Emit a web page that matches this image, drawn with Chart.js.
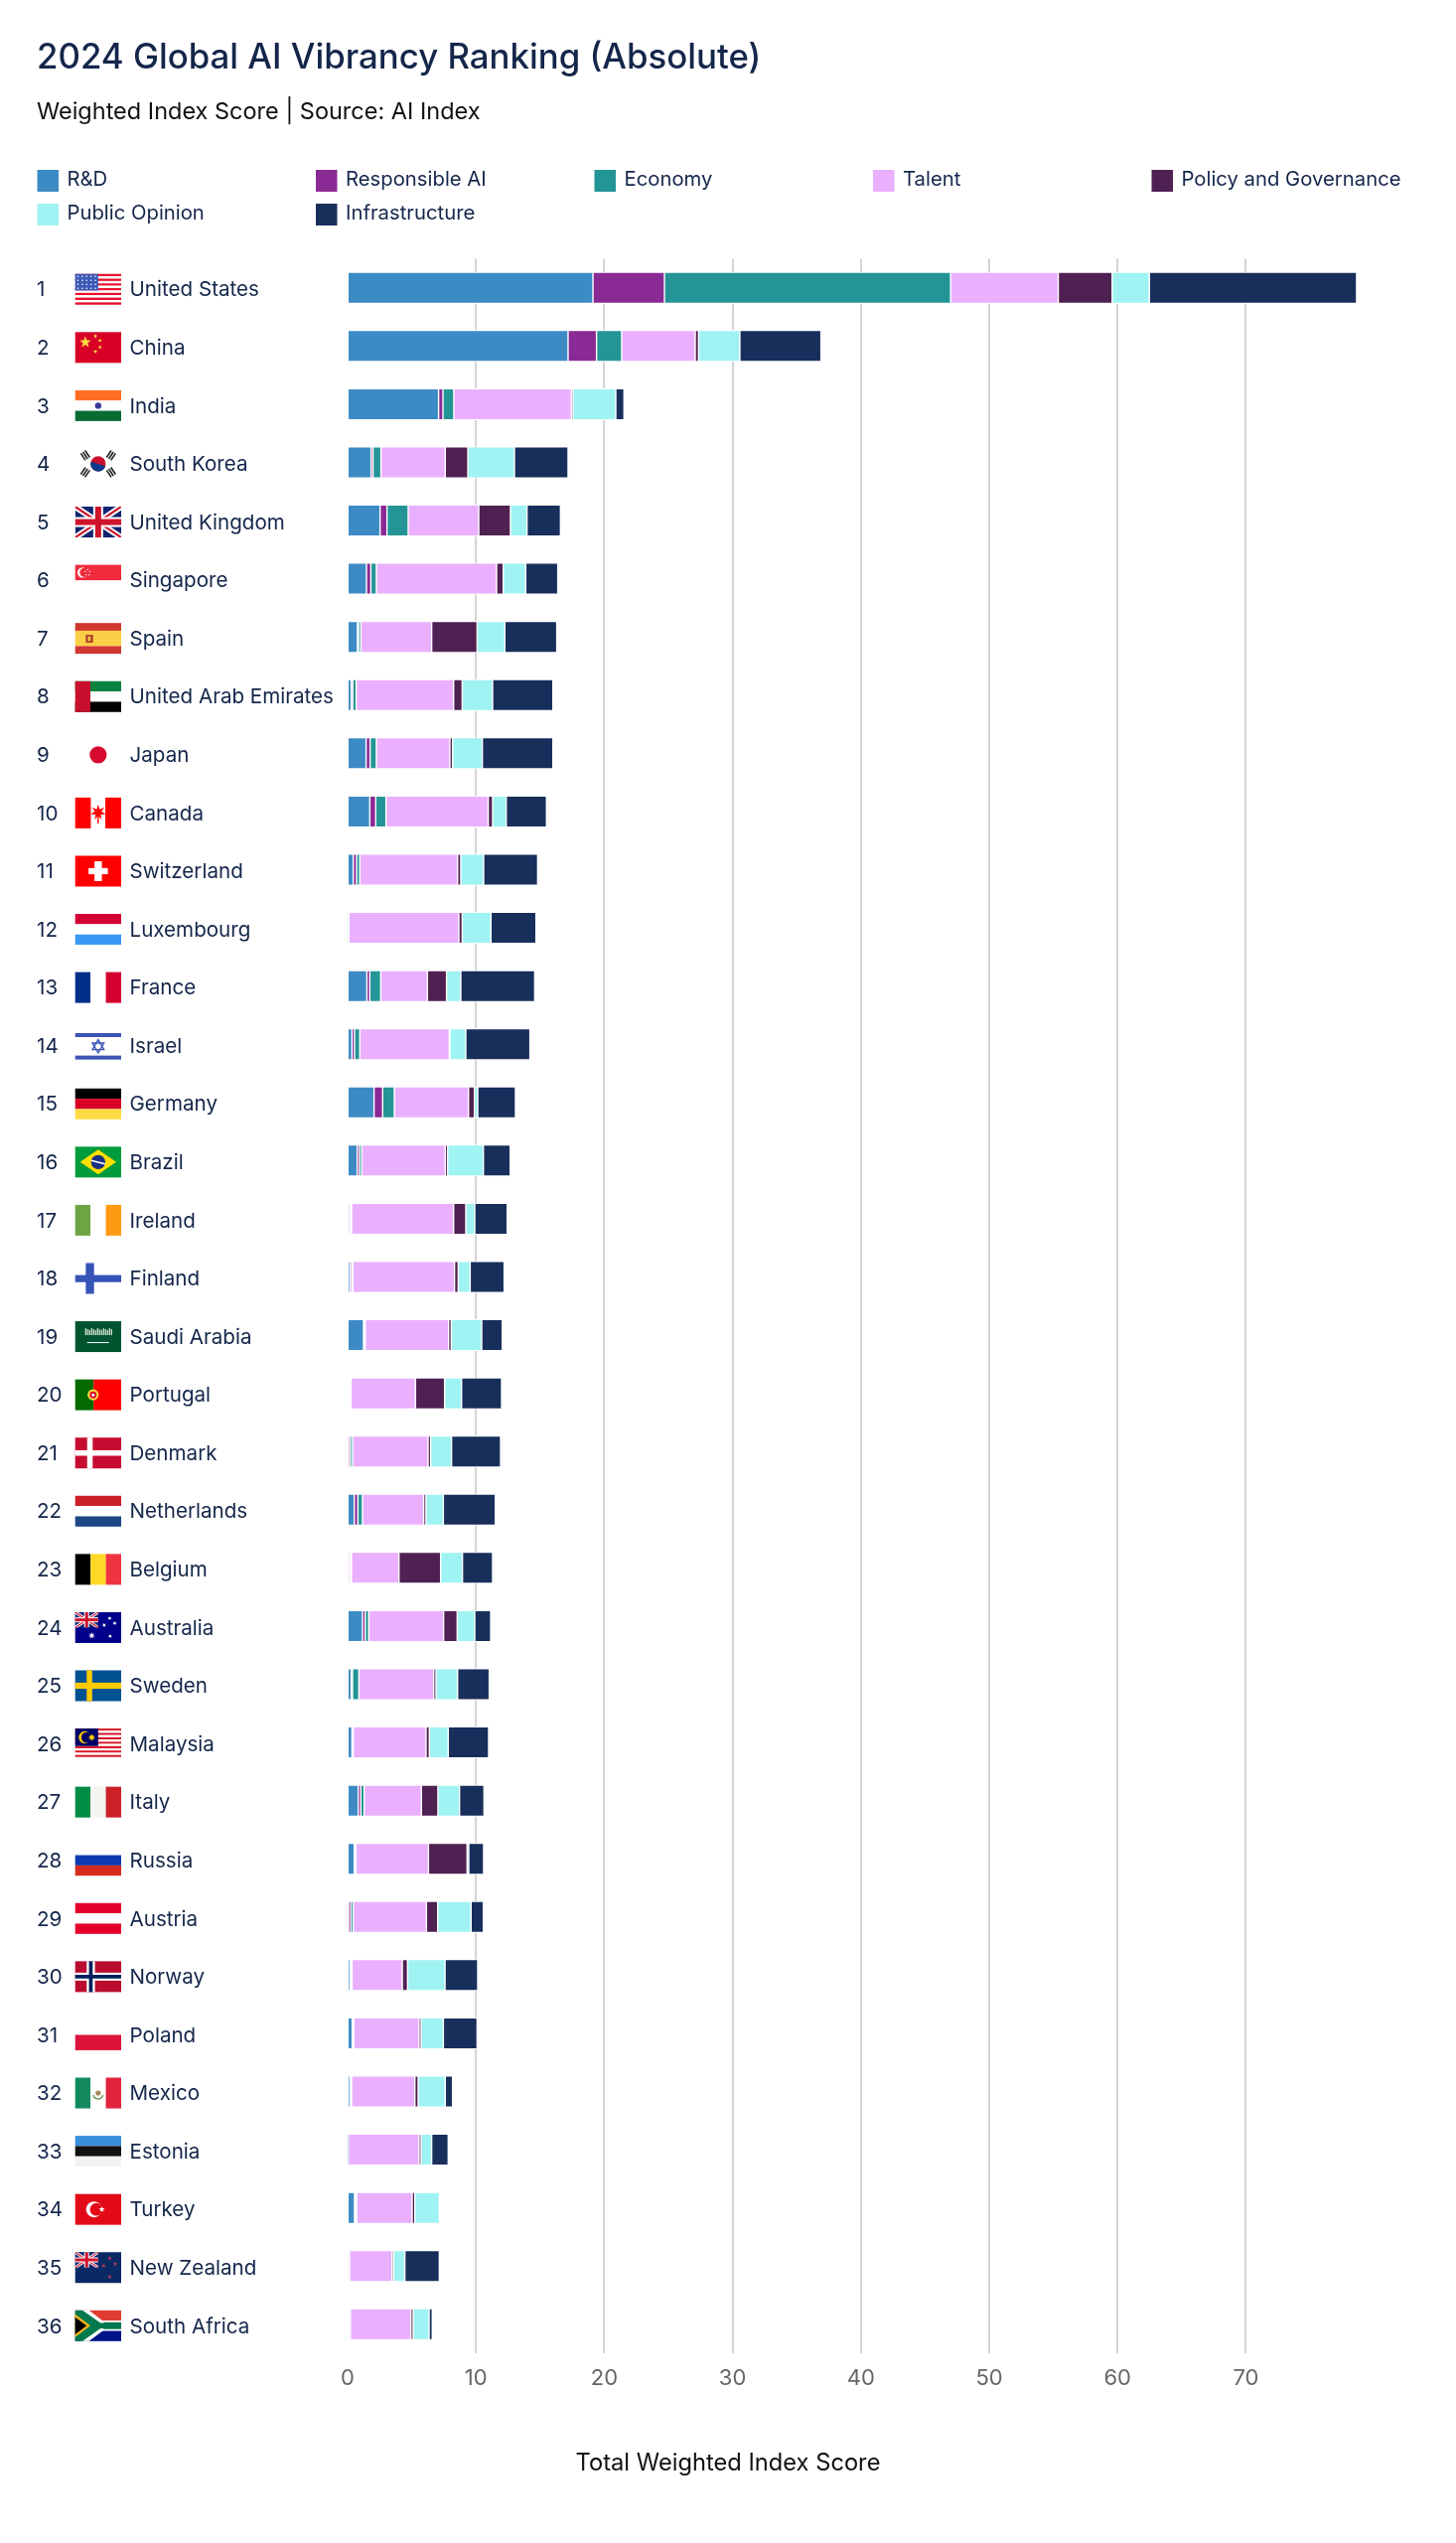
<!DOCTYPE html>
<html><head><meta charset="utf-8">
<style>html,body{margin:0;padding:0;background:#fff}canvas{display:block}</style>
<script src="https://cdn.jsdelivr.net/npm/chart.js@4"></script>
</head><body>
<canvas id="c" width="1466" height="2560" style="width:1466px;height:2560px"></canvas>
<script>
const titleText = '2024 Global AI Vibrancy Ranking (Absolute)';
const subtitleText = 'Weighted Index Score | Source: AI Index';
const axisTitle = 'Total Weighted Index Score';
const countries = ['United States','China','India','South Korea','United Kingdom','Singapore','Spain','United Arab Emirates','Japan','Canada','Switzerland','Luxembourg','France','Israel','Germany','Brazil','Ireland','Finland','Saudi Arabia','Portugal','Denmark','Netherlands','Belgium','Australia','Sweden','Malaysia','Italy','Russia','Austria','Norway','Poland','Mexico','Estonia','Turkey','New Zealand','South Africa'];
const ranks = countries.map((_, i) => String(i + 1));
const rnd = [19.12,17.18,7.09,1.83,2.53,1.47,.77,.28,1.44,1.73,.44,.04,1.5,.34,2.06,.75,.13,.18,1.24,.08,.08,.52,.08,1.16,.28,.34,.83,.52,.08,.18,.36,.18,.02,.54,.05,.08];
const responsibleAI = [5.57,2.22,.34,.15,.54,.34,.08,.12,.31,.46,.26,.03,.23,.2,.67,.18,.1,.13,.07,.1,.14,.28,.12,.21,.1,.05,.2,.06,.18,.08,.07,.07,.02,.08,.05,.07];
const economy = [22.3,1.96,.85,.62,1.65,.43,.18,.27,.49,.8,.25,.03,.85,.41,.91,.18,.08,.1,.06,.08,.17,.36,.1,.28,.5,.05,.26,.07,.18,.08,.06,.06,.02,.08,.05,.06];
const talent = [8.39,5.73,9.16,5.01,5.5,9.37,5.52,7.59,5.73,7.97,7.62,8.57,3.64,6.97,5.78,6.5,7.95,7.92,6.5,5.03,5.88,4.77,3.7,5.83,5.83,5.67,4.46,5.65,5.7,3.92,5.08,4.93,5.51,4.33,3.31,4.72];
const policy = [4.2,.26,.13,1.76,2.47,.52,3.54,.67,.21,.34,.25,.26,1.49,.05,.46,.18,.95,.29,.21,2.27,.2,.18,3.25,1.06,.18,.26,1.29,3.01,.88,.41,.16,.26,.16,.21,.13,.18];
const opinion = [2.9,3.22,3.33,3.63,1.29,1.75,2.16,2.37,2.32,1.06,1.78,2.24,1.11,1.24,.26,2.79,.7,.93,2.37,1.32,1.63,1.35,1.7,1.37,1.68,1.47,1.68,.13,2.6,2.92,1.73,2.11,.82,1.91,.87,1.24];
const infrastructure = [16.15,6.32,.64,4.18,2.61,2.5,4.05,4.7,5.5,3.14,4.21,3.51,5.76,5.0,2.94,2.09,2.53,2.65,1.6,3.12,3.82,4.05,2.35,1.24,2.47,3.15,1.91,1.16,.96,2.55,2.63,.57,1.29,.1,2.69,.25];
const seriesNames = ['R&D','Responsible AI','Economy','Talent','Policy and Governance','Public Opinion','Infrastructure'];
const seriesValues = [rnd,responsibleAI,economy,talent,policy,opinion,infrastructure];
const seriesColors = ['#3d8bc5','#8a2a95','#249596','#eab0ff','#4f2052','#a0f3f3','#182f5c'];
const xTicks = [0,10,20,30,40,50,60,70];

const INK = '#14264a';
const FONT = 'Inter, sans-serif';

/* ---------- flags ---------- */
function hs(g,cols,fr){let y=g.y;const tot=fr?fr.reduce((a,b)=>a+b,0):cols.length;cols.forEach((c,i)=>{const h=g.h*(fr?fr[i]:1)/tot;g.c.fillStyle=c;g.c.fillRect(g.x,y,g.w,h);y+=h;});}
function vs(g,cols,fr){let x=g.x;const tot=fr?fr.reduce((a,b)=>a+b,0):cols.length;cols.forEach((c,i)=>{const w=g.w*(fr?fr[i]:1)/tot;g.c.fillStyle=c;g.c.fillRect(x,g.y,w,g.h);x+=w;});}
function rect(g,c,fx,fy,fw,fh){g.c.fillStyle=c;g.c.fillRect(g.x+g.w*fx,g.y+g.h*fy,g.w*fw,g.h*fh);}
function circ(g,c,fx,fy,r){g.c.fillStyle=c;g.c.beginPath();g.c.arc(g.x+g.w*fx,g.y+g.h*fy,r,0,7);g.c.fill();}
function star(g,c,fx,fy,r,n=5,inner=.42,rot=-Math.PI/2){const x=g.x+g.w*fx,y=g.y+g.h*fy;g.c.fillStyle=c;g.c.beginPath();for(let i=0;i<n*2;i++){const a=rot+i*Math.PI/n,q=i%2?r*inner:r;g.c.lineTo(x+q*Math.cos(a),y+q*Math.sin(a));}g.c.closePath();g.c.fill();}
function clip(g,x,y,w,h,fn){const c=g.c;c.save();c.beginPath();c.rect(x,y,w,h);c.clip();fn();c.restore();}
function line(g,col,lw,x1,y1,x2,y2){const c=g.c;c.strokeStyle=col;c.lineWidth=lw;c.beginPath();c.moveTo(x1,y1);c.lineTo(x2,y2);c.stroke();}
function jack(g,fw,fh){const x=g.x,y=g.y,w=g.w*fw,h=g.h*fh,k=h/31;clip(g,x,y,w,h,()=>{g.c.fillStyle='#10246e';g.c.fillRect(x,y,w,h);
 line(g,'#fff',6*k,x,y,x+w,y+h);line(g,'#fff',6*k,x+w,y,x,y+h);line(g,'#cf142b',2.2*k,x,y,x+w,y+h);line(g,'#cf142b',2.2*k,x+w,y,x,y+h);
 g.c.fillStyle='#fff';g.c.fillRect(x+w/2-5*k,y,10*k,h);g.c.fillRect(x,y+h/2-5*k,w,10*k);
 g.c.fillStyle='#cf142b';g.c.fillRect(x+w/2-3*k,y,6*k,h);g.c.fillRect(x,y+h/2-3*k,w,6*k);});}
const flags = {
 'United States':g=>{const s=[];for(let i=0;i<13;i++)s.push(i%2?'#fff':'#e8112d');hs(g,s);rect(g,'#3c5bb8',0,0,.5,.54);for(let r=0;r<4;r++)for(let q=0;q<5;q++)circ(g,'#fff',.06+q*.095,.08+r*.13,.8);},
 'China':g=>{hs(g,['#d80027']);star(g,'#ffda44',.22,.33,6);[[.44,.13],[.54,.27],[.54,.49],[.44,.63]].forEach(p=>star(g,'#ffda44',p[0],p[1],2.2));},
 'India':g=>{hs(g,['#ff6f23','#fff','#0a6b35']);circ(g,'#3a3a9c',.5,.5,3.2);},
 'South Korea':g=>{hs(g,['#fff']);const c=g.c,x=g.x+g.w/2,y=g.y+g.h/2;circ(g,'#c8102e',.5,.5,7.6);c.fillStyle='#0a3a8c';c.beginPath();c.arc(x,y,7.6,0.3,0.3+Math.PI);c.fill();
  [[-1,-1],[1,-1],[-1,1],[1,1]].forEach(d=>{c.save();c.translate(x+d[0]*13,y+d[1]*8.5);c.rotate(d[0]*d[1]*0.98);c.fillStyle='#222';for(let i=-1;i<=1;i++)c.fillRect(-4.2,i*2.6-.8,8.4,1.6);c.restore();});},
 'United Kingdom':g=>jack(g,1,1),
 'Singapore':g=>{rect(g,'#ef2b3c',0,0,1,.5);circ(g,'#fff',.16,.25,5.2);circ(g,'#ef2b3c',.2,.25,4.6);for(let i=0;i<5;i++)star(g,'#fff',.27+.055*Math.cos(i*1.257-1.57),.25+.1*Math.sin(i*1.257-1.57),1.1);},
 'Spain':g=>{hs(g,['#cf3731','#fbcf46','#cf3731'],[1,2,1]);rect(g,'#b5452a',.23,.38,.16,.26);rect(g,'#fbcf46',.28,.44,.05,.14);},
 'United Arab Emirates':g=>{hs(g,['#0a8341','#fff','#000']);rect(g,'#c8102e',0,0,.33,1);},
 'Japan':g=>{hs(g,['#fff']);circ(g,'#d50a2e',.5,.5,8.6);},
 'Canada':g=>{vs(g,['#ff0000','#fff','#ff0000'],[1,.9,1]);star(g,'#ff0000',.5,.48,8,7,.42);rect(g,'#ff0000',.485,.6,.03,.24);},
 'Switzerland':g=>{hs(g,['#ff0000']);rect(g,'#fff',.29,.4,.42,.2);rect(g,'#fff',.42,.18,.16,.64);},
 'Luxembourg':g=>hs(g,['#d50032','#fff','#3b97f5']),
 'France':g=>vs(g,['#002f87','#fff','#d40030']),
 'Israel':g=>{hs(g,['#fff']);rect(g,'#3d55b5',0,.09,1,.13);rect(g,'#3d55b5',0,.82,1,.13);
   const c=g.c,x=g.x+g.w/2,y=g.y+g.h*.52;c.strokeStyle='#3d55b5';c.lineWidth=1.4;[-1,1].forEach(d=>{c.beginPath();c.moveTo(x,y+d*6.6);c.lineTo(x+5.8,y-d*3.3);c.lineTo(x-5.8,y-d*3.3);c.closePath();c.stroke();});},
 'Germany':g=>hs(g,['#000','#d80027','#ffda44']),
 'Brazil':g=>{hs(g,['#009b3a']);const c=g.c,x=g.x+g.w/2,y=g.y+g.h/2;c.fillStyle='#fedf00';c.beginPath();c.moveTo(g.x+5,y);c.lineTo(x,g.y+3);c.lineTo(g.x+g.w-5,y);c.lineTo(x,g.y+g.h-3);c.closePath();c.fill();circ(g,'#1b2f80',.5,.5,7.2);line(g,'#fff',1.6,x-7,y-1.5,x+7,y+2);},
 'Ireland':g=>vs(g,['#6ea544','#fff','#ff9a13']),
 'Finland':g=>{hs(g,['#fff']);rect(g,'#3653b8',0,.39,1,.23);rect(g,'#3653b8',.23,0,.18,1);},
 'Saudi Arabia':g=>{hs(g,['#005430']);const c=g.c;c.fillStyle='#dfe9df';for(let i=0;i<14;i++)c.fillRect(g.x+10+i*2,g.y+7+(i%3),1.2,7-(i%3));line(g,'#fff',1,g.x+12,g.y+21.5,g.x+34,g.y+21.5);},
 'Portugal':g=>{vs(g,['#046a00','#ff0000'],[2,3]);circ(g,'#ffda44',.39,.5,5.6);circ(g,'#d80027',.39,.5,3.4);circ(g,'#fff',.39,.5,1.5);},
 'Denmark':g=>{hs(g,['#c60c30']);rect(g,'#fff',0,.41,1,.18);rect(g,'#fff',.26,0,.12,1);},
 'Netherlands':g=>hs(g,['#cd1f2a','#fff','#1e4785']),
 'Belgium':g=>vs(g,['#000','#ffd925','#ef3340']),
 'Australia':g=>{hs(g,['#00008b']);jack(g,.5,.5);star(g,'#fff',.36,.76,3.4,7);[[.75,.2],[.63,.42],[.86,.36],[.76,.78]].forEach(p=>star(g,'#fff',p[0],p[1],2.2,7));},
 'Sweden':g=>{hs(g,['#005293']);rect(g,'#fecb00',0,.4,1,.2);rect(g,'#fecb00',.25,0,.12,1);},
 'Malaysia':g=>{const s=[];for(let i=0;i<14;i++)s.push(i%2?'#fff':'#d81a2a');hs(g,s);rect(g,'#010066',0,0,.5,.57);circ(g,'#ffcc00',.21,.29,6.2);circ(g,'#010066',.25,.29,5.4);star(g,'#ffcc00',.36,.29,3.6,10,.5);},
 'Italy':g=>vs(g,['#008c45','#f4f5f0','#cd212a']),
 'Russia':g=>hs(g,['#fff','#0c3ab0','#d52b1e']),
 'Austria':g=>hs(g,['#e4002b','#fff','#e4002b']),
 'Norway':g=>{hs(g,['#ba0c2f']);rect(g,'#fff',0,.37,1,.26);rect(g,'#fff',.25,0,.18,1);rect(g,'#00205b',0,.44,1,.12);rect(g,'#00205b',.3,0,.08,1);},
 'Poland':g=>hs(g,['#fff','#dc143c']),
 'Mexico':g=>{vs(g,['#138a5d','#fff','#e0243c']);circ(g,'#a9895a',.5,.5,2.6);const c=g.c,x=g.x+g.w/2,y=g.y+g.h/2;c.strokeStyle='#6f9a5a';c.lineWidth=1.4;c.beginPath();c.arc(x,y+1,5,.2,Math.PI-.2);c.stroke();},
 'Estonia':g=>hs(g,['#3a8fdc','#111','#f2f2f2']),
 'Turkey':g=>{hs(g,['#e30a17']);circ(g,'#fff',.41,.5,8);circ(g,'#e30a17',.46,.5,6.4);star(g,'#fff',.58,.5,3.2);},
 'New Zealand':g=>{hs(g,['#0a2a66']);jack(g,.5,.5);[[.75,.2],[.62,.44],[.87,.38],[.75,.8]].forEach(p=>star(g,'#b33a5a',p[0],p[1],2.4));},
 'South Africa':g=>{hs(g,['#e03c31','#fff','#007a4d','#fff','#001489'],[10,1.6,6.8,1.6,10]);const c=g.c,x=g.x,y=g.y,w=g.w,h=g.h,m=y+h/2;
   c.fillStyle='#fff';c.beginPath();c.moveTo(x+w*.12,y);c.lineTo(x+w*.3,y);c.lineTo(x+w*.62,y+h*.36);c.lineTo(x+w*.62,y+h*.64);c.lineTo(x+w*.3,y+h);c.lineTo(x+w*.12,y+h);c.closePath();c.fill();
   c.fillStyle='#007a4d';c.beginPath();c.moveTo(x,y);c.lineTo(x+w*.16,y);c.lineTo(x+w*.55,y+h*.41);c.lineTo(x+w,y+h*.41);c.lineTo(x+w,y+h*.59);c.lineTo(x+w*.55,y+h*.59);c.lineTo(x+w*.16,y+h);c.lineTo(x,y+h);c.closePath();c.fill();
   c.fillStyle='#ffb81c';c.beginPath();c.moveTo(x,y+h*.13);c.lineTo(x+w*.33,m);c.lineTo(x,y+h*.87);c.closePath();c.fill();
   c.fillStyle='#000';c.beginPath();c.moveTo(x,y+h*.22);c.lineTo(x+w*.25,m);c.lineTo(x,y+h*.78);c.closePath();c.fill();}
};

const decorations = {
 id:'decorations',
 afterDraw(chart){
  const c=chart.ctx,y=chart.scales.y;
  /* flags */
  chart.data.labels.forEach((name,i)=>{
    c.save();
    const g={c,x:75.7,y:y.getPixelForValue(i)-14,w:46.3,h:31};
    flags[name](g);
    c.restore();
  });
  /* legend */
  c.save();
  c.textBaseline='middle';c.textAlign='left';c.font='400 20.3px '+FONT;
  chart.data.datasets.forEach((d,i)=>{
    const col=i%5,row=Math.floor(i/5),lx=37.5+col*280.5,ly=171+row*34;
    c.fillStyle=d.backgroundColor;c.fillRect(lx,ly,21.5,22);
    c.fillStyle=INK;c.fillText(d.label,lx+30,ly+9.5);
  });
  /* axis caption, centred on the page as in the reference */
  c.textAlign='center';c.font='400 23.7px '+FONT;c.fillStyle='#111';
  c.fillText(chart.options.scales.x.title.text,chart.width/2,2480);
  c.restore();
 }
};

new Chart(document.getElementById('c'),{
 type:'bar',
 data:{labels:countries,datasets:seriesNames.map((n,i)=>({label:n,data:seriesValues[i],backgroundColor:seriesColors[i],borderColor:'#fff',borderWidth:{top:1.2,bottom:1.2,left:.7,right:.7},borderSkipped:i===0?'start':false,barThickness:32.4,stack:'s',inflateAmount:0}))},
 plugins:[decorations],
 options:{
  indexAxis:'y',responsive:false,animation:false,devicePixelRatio:1,
  layout:{padding:{left:37,right:95.3,top:0,bottom:139.5}},
  scales:{
   x:{type:'linear',stacked:true,min:0,max:79,position:'bottom',
      title:{display:false,text:axisTitle},
      afterBuildTicks(s){s.ticks=xTicks.map(v=>({value:v}));},
      grid:{color:ctx=>ctx.tick&&ctx.tick.value===0?'rgba(0,0,0,0)':'#d4d4d4',lineWidth:2,drawTicks:false},
      border:{display:false},
      ticks:{font:{family:FONT,size:22},color:'#666',padding:12.5,maxRotation:0,includeBounds:false}},
   y:{type:'category',stacked:true,weight:0,
      grid:{display:false},border:{display:false},
      afterFit(s){s.width=219.5;},
      ticks:{crossAlign:'far',font:{family:FONT,size:20.6},color:INK,padding:0,autoSkip:false,labelOffset:2.5}},
   rank:{type:'category',labels:ranks,position:'left',weight:1,
      grid:{display:false},border:{display:false},
      afterFit(s){s.width=93.5;},
      ticks:{crossAlign:'far',font:{family:FONT,size:20.6},color:INK,padding:0,autoSkip:false,labelOffset:2.5}}
  },
  plugins:{
   legend:{display:false},tooltip:{enabled:false},
   title:{display:true,text:titleText,align:'start',color:INK,font:{family:FONT,size:34.8,weight:'500'},padding:{top:38,bottom:10}},
   subtitle:{display:true,text:subtitleText,align:'start',color:'#111',font:{family:FONT,size:23.5},padding:{top:9,bottom:133.5}}
  }
 }
});
</script></body></html>
